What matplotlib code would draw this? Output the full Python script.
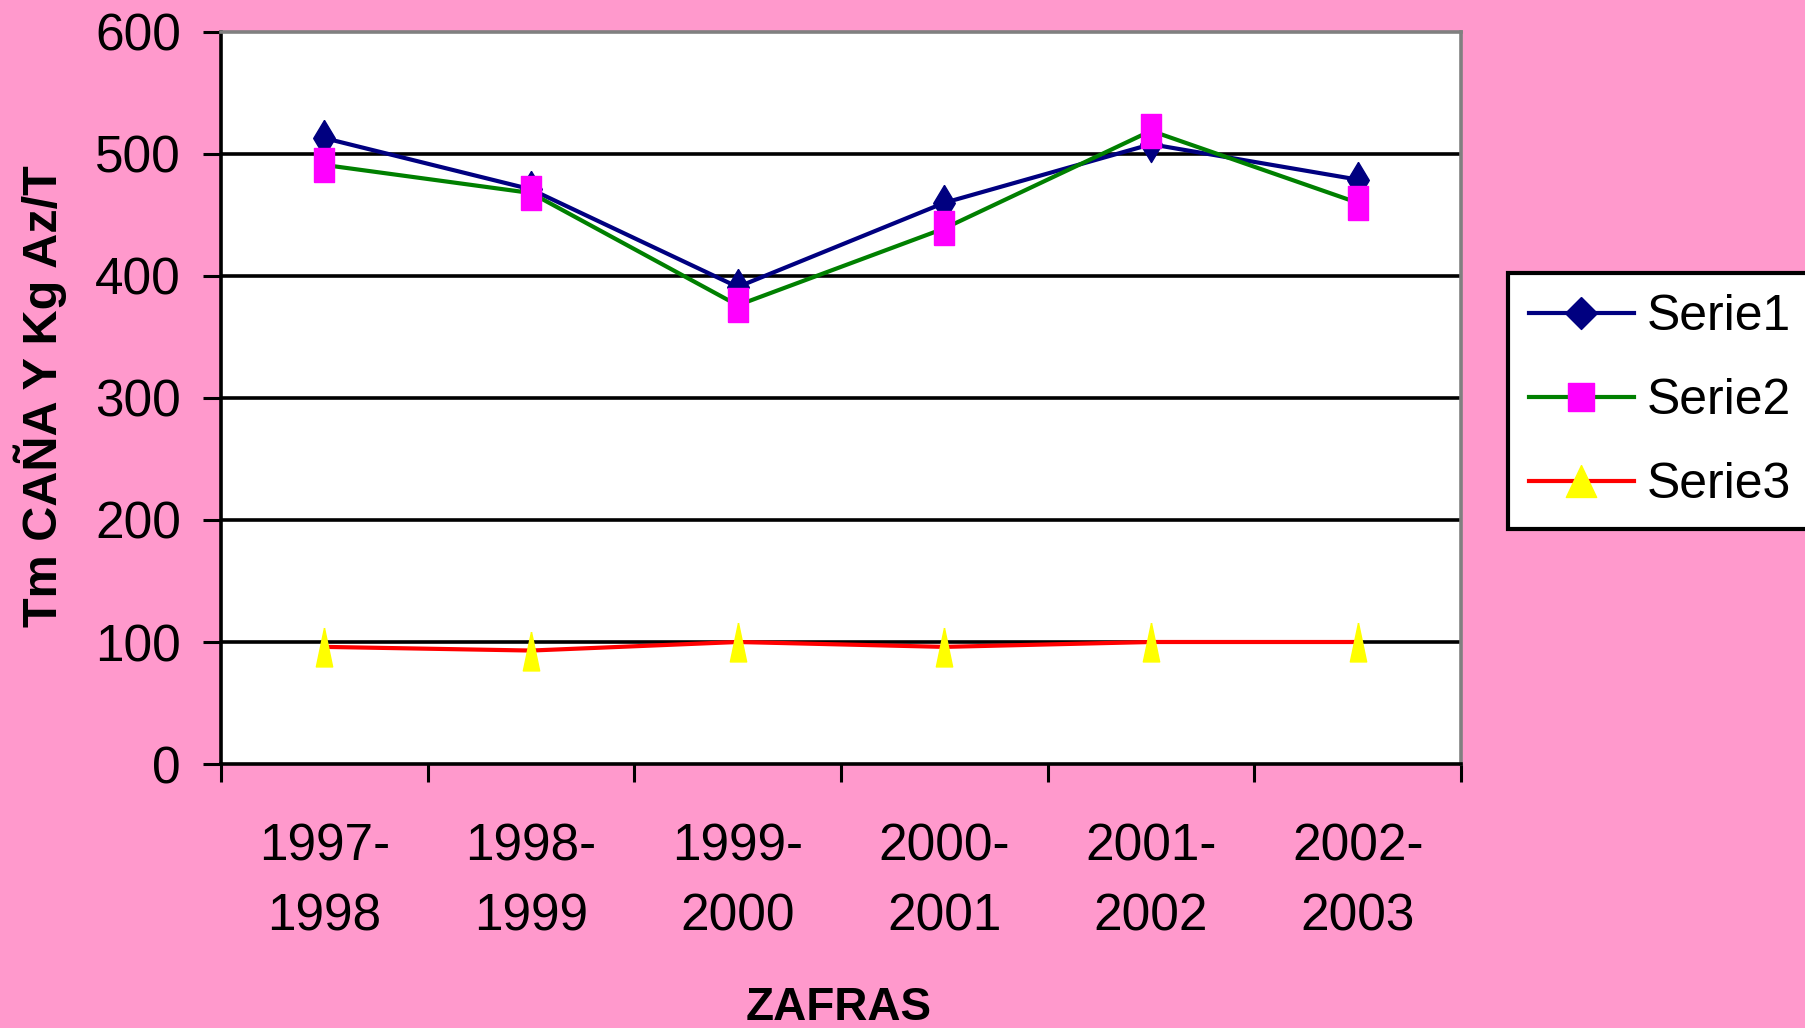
import matplotlib
matplotlib.use("Agg")
import matplotlib.pyplot as plt
from matplotlib.lines import Line2D

# Data
zafras = ["1997-\n1998", "1998-\n1999", "1999-\n2000", "2000-\n2001", "2001-\n2002", "2002-\n2003"]
serie1 = [513, 471, 391, 460, 508, 479]
serie2 = [491, 468, 376, 439, 519, 460]
serie3 = [96, 93, 100, 96, 100, 100]
y_ticks = [0, 100, 200, 300, 400, 500, 600]

plt.rcParams['font.family'] = ['Liberation Sans', 'DejaVu Sans']

PINK = '#FF99CC'

# Markers in the plot area are narrower than tall (stretched look of the original)
tall_diamond = [(0, 1), (0.6, 0), (0, -1), (-0.6, 0), (0, 1)]
tall_square = [(-0.58, -1), (0.58, -1), (0.58, 1), (-0.58, 1), (-0.58, -1)]
tall_triangle = [(0, 1), (0.42, -1), (-0.42, -1), (0, 1)]

diamond = [(0, 1), (1, 0), (0, -1), (-1, 0), (0, 1)]
square = [(-0.95, -1), (0.95, -1), (0.95, 1), (-0.95, 1), (-0.95, -1)]
triangle = [(0, 1), (0.95, -1), (-0.95, -1), (0, 1)]

fig = plt.figure(figsize=(18.06, 10.28), dpi=100, facecolor=PINK)
ax = fig.add_axes([0.1224, 0.2568, 0.6866, 0.7121])
ax.set_facecolor('white')

x = list(range(len(zafras)))

# horizontal grid lines
for v in y_ticks[1:-1]:
    ax.axhline(v, color='black', lw=2.6, zorder=1)

ax.plot(x, serie1, color='#000080', lw=3.0, marker=tall_diamond, ms=26,
        mfc='#000080', mec='#000080', zorder=3)
ax.plot(x, serie2, color='#008000', lw=3.0, marker=tall_square, ms=25,
        mfc='#FF00FF', mec='#FF00FF', zorder=3)
ax.plot(x, serie3, color='#FF0000', lw=3.0, marker=tall_triangle, ms=28,
        mfc='#FFFF00', mec='#FFFF00', zorder=3)

ax.set_xlim(-0.5, 5.5)
ax.set_ylim(0, 600)
ax.set_yticks(y_ticks)
ax.tick_params(axis='y', labelsize=37, length=13, width=2.2, direction='out', pad=16)

# category boundaries as major ticks, labels at the centres
ax.set_xticks([i - 0.5 for i in range(len(zafras) + 1)])
ax.set_xticklabels([])
ax.set_xticks(x, minor=True)
ax.set_xticklabels(zafras, minor=True, fontsize=37, linespacing=1.55)
ax.tick_params(axis='x', which='major', length=13, width=2.2, direction='out')
ax.tick_params(axis='x', which='minor', length=0, pad=42)

for s in ['left', 'bottom']:
    ax.spines[s].set_color('black')
    ax.spines[s].set_linewidth(2.6)
for s in ['top', 'right']:
    ax.spines[s].set_color('#808080')
    ax.spines[s].set_linewidth(2.6)

fig.text(40 / 1806, 1 - 396 / 1028, "Tm CAÑA Y Kg Az/T", rotation=90,
         ha='center', va='center', fontsize=35, fontweight='bold')
fig.text(0.4646, 0.008, "ZAFRAS", ha='center', va='baseline',
         fontsize=33, fontweight='bold')

handles = [
    Line2D([], [], color='#000080', lw=3.0, marker=diamond, ms=23, mfc='#000080', mec='#000080'),
    Line2D([], [], color='#008000', lw=3.0, marker=square, ms=20, mfc='#FF00FF', mec='#FF00FF'),
    Line2D([], [], color='#FF0000', lw=3.0, marker=triangle, ms=23, mfc='#FFFF00', mec='#FFFF00'),
]
leg = fig.legend(handles, ["Serie1", "Serie2", "Serie3"], loc='upper left',
                 bbox_to_anchor=(1508 / 1806, 1 - 273 / 1028), fontsize=36,
                 frameon=True, fancybox=False, borderaxespad=0, borderpad=0.42,
                 handlelength=2.1, handletextpad=0.25, labelspacing=0.76)
leg.get_frame().set_edgecolor('black')
leg.get_frame().set_linewidth(3)
leg.get_frame().set_facecolor('white')
leg.get_frame().set_alpha(1)

fig.savefig("out.png", dpi=100, facecolor=PINK)
